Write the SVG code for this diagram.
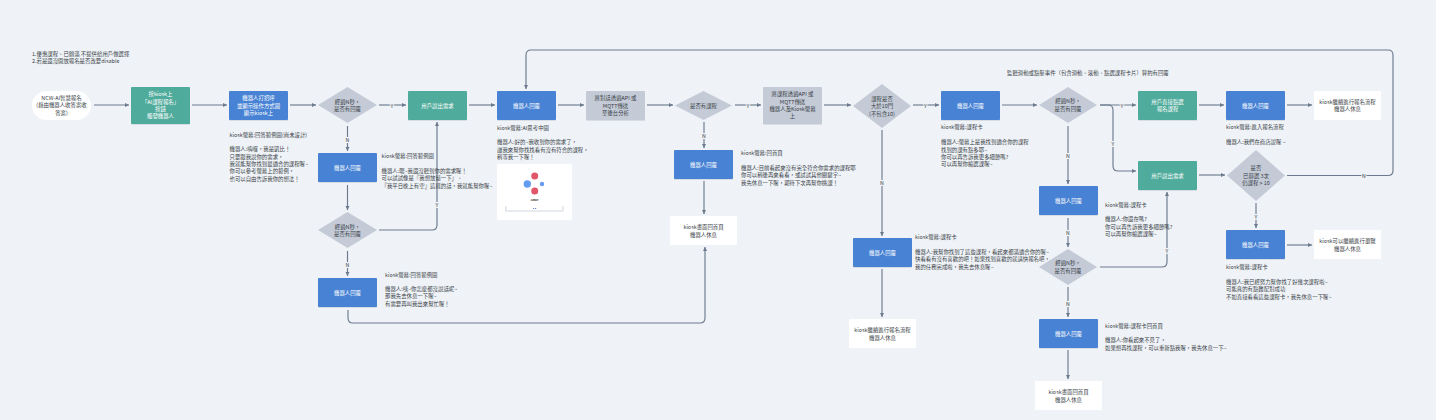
<svg xmlns="http://www.w3.org/2000/svg" width="1436" height="420" viewBox="0 0 1436 420">
<style>
text{font-family:"Noto Sans CJK TC","Noto Sans",sans-serif;font-size:5.4px;fill:#3a3f47;dominant-baseline:central}
.c{text-anchor:middle}
.w{fill:#fff}
.blue{fill:#4682d4;filter:url(#s)}
.green{fill:#4fab9b;filter:url(#s)}
.gray{fill:#c4cbd7;filter:url(#s)}
.white{fill:#fff}
.dia{fill:#c4cbd7}
#connectors path{fill:none;stroke:#6c7a8e;stroke-width:1.15;marker-end:url(#a)}
#connectors text{stroke:#eff3f7;stroke-width:2px;paint-order:stroke;fill:#3a3f47;font-size:5.2px;text-anchor:middle}
</style>
<defs>
<marker id="a" markerWidth="6" markerHeight="6" refX="4" refY="2" orient="auto" markerUnits="userSpaceOnUse"><path d="M0,0L4,2L0,4Z" fill="#6c7a8e"/></marker>
<filter id="s" x="-5%" y="-5%" width="110%" height="115%"><feDropShadow dx="0" dy="0.6" stdDeviation="0.3" flood-color="#7a8799" flood-opacity="0.35"/></filter>
</defs>
<rect width="1436" height="420" fill="#eff3f7"/>

<g id="notes">
<text x="32" y="53.5">1.優惠課程、已額滿 不提供給用戶做選擇</text>
<text x="32" y="61">2.若是還沒開放報名是否改要disable</text>
<text x="1007" y="72.5">監聽滑動或點擊事件（包含滑動、滾動、點選課程卡片）算約有回覆</text>
</g>

<g id="connectors">
<path d="M94,105H129"/>
<path d="M192,105H227"/>
<path d="M290,105H316"/>
<path d="M379,105H406"/><text x="392" y="105">Y</text>
<path d="M469,105H495"/>
<path d="M558,105H584"/>
<path d="M647,105H673"/>
<path d="M735,105H761"/><text x="748" y="105">Y</text>
<path d="M824,105H851"/>
<path d="M913,105H939"/><text x="925.5" y="105">Y</text>
<path d="M1002,105H1037"/>
<path d="M1100,105H1136"/><text x="1122" y="105">Y</text>
<path d="M1100,105H1108Q1113,105 1113,110V166Q1113,171 1118,171H1136"/><text x="1113" y="143">Y</text>
<path d="M1199,105H1224"/>
<path d="M1287,105H1312"/>
<path d="M1199,175H1225"/>
<path d="M1287,175.5H1388Q1393,175.5 1393,170.5V55Q1393,50 1388,50H531Q526,50 526,55V89"/><text x="1364" y="175.5">N</text>
<path d="M1256,203V228"/><text x="1256" y="216">Y</text>
<path d="M1287,245H1312"/>
<path d="M347.5,126V151"/><text x="347.5" y="139">N</text>
<path d="M347.5,185V210"/>
<path d="M379,230H432Q437,230 437,225V122"/><text x="437" y="204">Y</text>
<path d="M347.5,251V276"/><text x="347.5" y="264">N</text>
<path d="M348,310V318Q348,323 353,323H700Q705,323 705,318V247"/>
<path d="M704,122V148"/><text x="704" y="135">N</text>
<path d="M704,181V214"/>
<path d="M882,130V236"/><text x="882" y="182">N</text>
<path d="M882,269V317"/>
<path d="M1068,126V184"/><text x="1068" y="155">N</text>
<path d="M1068,218V247"/><text x="1068" y="232">N</text>
<path d="M1068,287V317"/><text x="1068" y="303">N</text>
<path d="M1068,350V379"/>
<path d="M1100,267H1162Q1167,267 1167,262V192"/><text x="1167" y="250">Y</text>
</g>

<g id="n_start"><rect x="32" y="91" width="59" height="29" rx="14.5" fill="#fff"/><text class="c" x="61.5" y="97.5">NCW-AI智慧報名</text><text class="c" x="61.5" y="105">(藉由機器人收答案收</text><text class="c" x="61.5" y="112.5">答案)</text></g>
<g id="n_press"><rect class="green" x="131" y="87" width="59" height="37" rx="1"/><text class="c w" x="160.5" y="94.3">按kiosk上</text><text class="c w" x="160.5" y="101.7">「AI課程報名」</text><text class="c w" x="160.5" y="109">按鈕</text><text class="c w" x="160.5" y="116.3">觸發機器人</text></g>
<g id="n_hello"><rect class="blue" x="229" y="91" width="59" height="29" rx="1"/><text class="c w" x="258.5" y="98">機器人打招呼</text><text class="c w" x="258.5" y="105.5">並顯示操作方式圖</text><text class="c w" x="258.5" y="113">顯示kiosk上</text></g>
<g id="t_hello"><text x="229.5" y="135">kiosk螢幕:回答範例圖(尚未設計)</text><text x="229.5" y="149">機器人:嗨囉，我是凱比！</text><text x="229.5" y="156.5">只要跟我說你的需求，</text><text x="229.5" y="164">我就能幫你找到最適合的課程喔~</text><text x="229.5" y="171">你可以參考螢幕上的範例，</text><text x="229.5" y="178.5">也可以自由告訴我你的想法！</text></g>

<g id="n_d1"><polygon class="dia" points="347.5,87 377,105 347.5,123 318,105"/><text class="c" x="347.5" y="101.5">經過N秒，</text><text class="c" x="347.5" y="109">是否有回覆</text></g>
<g id="n_need"><rect class="green" x="408" y="91" width="59" height="29" rx="1"/><text class="c w" x="437.5" y="105.5">用戶說出需求</text></g>
<g id="n_reply1"><rect class="blue" x="497" y="91" width="59" height="29" rx="1"/><text class="c w" x="526.5" y="105.5">機器人回覆</text></g>
<g id="t_reply1"><text x="497" y="128">kiosk螢幕:AI思考中圖</text><text x="497" y="142">機器人:好的~我收到你的需求了，</text><text x="497" y="150">讓我來幫你找找看有沒有符合的課程，</text><text x="497" y="157">稍等我一下喔！</text></g>
<g id="n_card">
<rect x="497" y="164" width="75" height="56" rx="2" fill="#fff"/>
<circle cx="534.7" cy="176" r="3.5" fill="#e2566a"/><circle cx="527.3" cy="184" r="3.7" fill="#659cf0"/><circle cx="542" cy="184" r="2.2" fill="#659cf0"/><circle cx="534.7" cy="191" r="3.5" fill="#e2566a"/>
<text class="c" x="534.7" y="199.5" style="font-size:2.6px;font-weight:700;fill:#111">AIBOT</text>
<path d="M505.8,206V211H563V206" fill="none" stroke="#c4cbd7" stroke-width="0.8"/>
<circle cx="533.7" cy="208.5" r="0.6" fill="#3b5fc0"/><circle cx="535.7" cy="208.5" r="0.6" fill="#3b5fc0"/>
</g>

<g id="n_reply2"><rect class="blue" x="318" y="153" width="59" height="29" rx="1"/><text class="c w" x="347.5" y="167.5">機器人回覆</text></g>
<g id="t_reply2"><text x="381.5" y="156">kiosk螢幕:回答範例圖</text><text x="381.5" y="171">機器人:嗯~我還沒聽到你的需求喔！</text><text x="381.5" y="178">可以試試像是『我想放鬆一下』、</text><text x="381.5" y="185.5">『我平日晚上有空』這樣的話，我就能幫你喔~</text></g>
<g id="n_d1b"><polygon class="dia" points="347.5,212 377,230 347.5,248 318,230"/><text class="c" x="347.5" y="226.5">經過N秒，</text><text class="c" x="347.5" y="234">是否有回覆</text></g>
<g id="n_reply3"><rect class="blue" x="318" y="278" width="59" height="29" rx="1"/><text class="c w" x="347.5" y="292.5">機器人回覆</text></g>
<g id="t_reply3"><text x="385" y="275">kiosk螢幕:回答範例圖</text><text x="385" y="289">機器人:咦~你怎麼都沒說話呢~</text><text x="385" y="296">那我先去休息一下喔~</text><text x="385" y="304">有需要再叫我出來幫忙喔！</text></g>

<g id="n_send1"><rect class="gray" x="586" y="91" width="59" height="29" rx="1"/><text class="c" x="615.5" y="98">將對話透過API 或</text><text class="c" x="615.5" y="105.5">MQTT傳送</text><text class="c" x="615.5" y="113">至後台分析</text></g>
<g id="n_d2"><polygon class="dia" points="703.5,91 732,105.5 703.5,120 675,105.5"/><text class="c" x="703.5" y="105.5">是否有課程</text></g>
<g id="n_reply4"><rect class="blue" x="674" y="150" width="59" height="29" rx="1"/><text class="c w" x="703.5" y="164.5">機器人回覆</text></g>
<g id="t_reply4"><text x="741" y="153">kiosk螢幕:回首頁</text><text x="741" y="168">機器人:目前看起來沒有完全符合你需求的課程耶</text><text x="741" y="175">你可以稍後再來看看，或試試其他關鍵字~</text><text x="741" y="183">我先休息一下喔，期待下次再幫你挑課！</text></g>
<g id="n_home1"><rect class="white" x="670" y="216" width="67" height="29"/><text class="c" x="703.5" y="227">kiosk畫面回首頁</text><text class="c" x="703.5" y="234.5">機器人休息</text></g>

<g id="n_send2"><rect class="gray" x="763" y="87" width="59" height="37" rx="1"/><text class="c" x="792.5" y="94.3">將課程透過API 或</text><text class="c" x="792.5" y="101.7">MQTT傳送</text><text class="c" x="792.5" y="109">機器人及Kiosk螢幕</text><text class="c" x="792.5" y="116.3">上</text></g>
<g id="n_d3"><polygon class="dia" points="882,84 911,106 882,128 853,106"/><text class="c" x="882" y="98.5">課程是否</text><text class="c" x="882" y="106">大於10門</text><text class="c" x="882" y="113.5">(不包含10)</text></g>
<g id="n_reply5"><rect class="blue" x="941" y="91" width="59" height="29" rx="1"/><text class="c w" x="970.5" y="105.5">機器人回覆</text></g>
<g id="t_reply5"><text x="941" y="127">kiosk螢幕:課程卡</text><text x="941" y="142">機器人:螢幕上是我找到適合你的課程</text><text x="941" y="149.5">找到的課有點多耶~</text><text x="941" y="157">你可以再告訴我更多細節嗎?</text><text x="941" y="164">可以再幫你縮選課喔~</text></g>
<g id="n_reply6"><rect class="blue" x="853" y="238" width="59" height="29" rx="1"/><text class="c w" x="882.5" y="252.5">機器人回覆</text></g>
<g id="t_reply6"><text x="915" y="237">kiosk螢幕:課程卡</text><text x="915" y="252">機器人:我幫你找到了這些課程，看起來都滿適合你的喔~</text><text x="915" y="259">快看看有沒有喜歡的吧！如果找到喜歡的就請快報名吧，</text><text x="915" y="267">我的任務完成啦，我先去休息喔~</text></g>
<g id="n_flow1"><rect class="white" x="849" y="319" width="67" height="29"/><text class="c" x="882.5" y="330">kiosk繼續進行報名流程</text><text class="c" x="882.5" y="337.5">機器人休息</text></g>

<g id="n_d4"><polygon class="dia" points="1068,87 1097,105 1068,123 1039,105"/><text class="c" x="1068" y="101">經過N秒，</text><text class="c" x="1068" y="108.5">是否有回覆</text></g>
<g id="n_reply7"><rect class="blue" x="1039" y="186" width="59" height="29" rx="1"/><text class="c w" x="1068.5" y="200.5">機器人回覆</text></g>
<g id="t_reply7"><text x="1105" y="205">kiosk螢幕:課程卡</text><text x="1105" y="219">機器人:你還在嗎?</text><text x="1105" y="227">你可以再告訴我更多細節嗎?</text><text x="1105" y="234">可以再幫你縮選課喔~</text></g>
<g id="n_d5"><polygon class="dia" points="1068,249 1097,267 1068,285 1039,267"/><text class="c" x="1068" y="263">經過N秒，</text><text class="c" x="1068" y="270.5">是否有回覆</text></g>
<g id="n_reply8"><rect class="blue" x="1039" y="319" width="59" height="29" rx="1"/><text class="c w" x="1068.5" y="333.5">機器人回覆</text></g>
<g id="t_reply8"><text x="1105" y="326">kiosk螢幕:課程卡回首頁</text><text x="1105" y="340">機器人:你看起來不見了，</text><text x="1105" y="348">如果想再找課程，可以重新點我喔，我先休息一下~</text></g>
<g id="n_home2"><rect class="white" x="1035" y="381" width="67" height="29"/><text class="c" x="1068.5" y="392">kiosk畫面回首頁</text><text class="c" x="1068.5" y="399.5">機器人休息</text></g>

<g id="n_click"><rect class="green" x="1138" y="91" width="59" height="29" rx="1"/><text class="c w" x="1167.5" y="102">用戶直接點選</text><text class="c w" x="1167.5" y="109">報名課程</text></g>
<g id="n_reply9"><rect class="blue" x="1226" y="91" width="59" height="29" rx="1"/><text class="c w" x="1255.5" y="105.5">機器人回覆</text></g>
<g id="t_reply9"><text x="1226" y="127">kiosk螢幕:進入報名流程</text><text x="1226" y="142">機器人:我們在商店說喔 ~</text></g>
<g id="n_flow2"><rect class="white" x="1314" y="91" width="67" height="29"/><text class="c" x="1347.5" y="102">kiosk繼續進行報名流程</text><text class="c" x="1347.5" y="109">機器人休息</text></g>
<g id="n_need2"><rect class="green" x="1138" y="161" width="59" height="29" rx="1"/><text class="c w" x="1167.5" y="175.5">用戶說出需求</text></g>
<g id="n_d6"><polygon class="dia" points="1256,150 1285,175.5 1256,201 1227,175.5"/><text class="c" x="1256" y="168">是否</text><text class="c" x="1256" y="175.5">已篩選 3次</text><text class="c" x="1256" y="183">仍課程 &gt; 10</text></g>
<g id="n_reply10"><rect class="blue" x="1226" y="230" width="59" height="29" rx="1"/><text class="c w" x="1255.5" y="244.5">機器人回覆</text></g>
<g id="t_reply10"><text x="1226" y="267">kiosk螢幕:課程卡</text><text x="1226" y="282">機器人:我已經努力幫你找了好幾次課程啦~</text><text x="1226" y="289">可能真的有點難配對成功</text><text x="1226" y="297">不如直接看看這些課程卡，我先休息一下喔~</text></g>
<g id="n_browse"><rect class="white" x="1314" y="230" width="67" height="29"/><text class="c" x="1347.5" y="241">kiosk可以繼續進行瀏覽</text><text class="c" x="1347.5" y="248.5">機器人休息</text></g>
</svg>
